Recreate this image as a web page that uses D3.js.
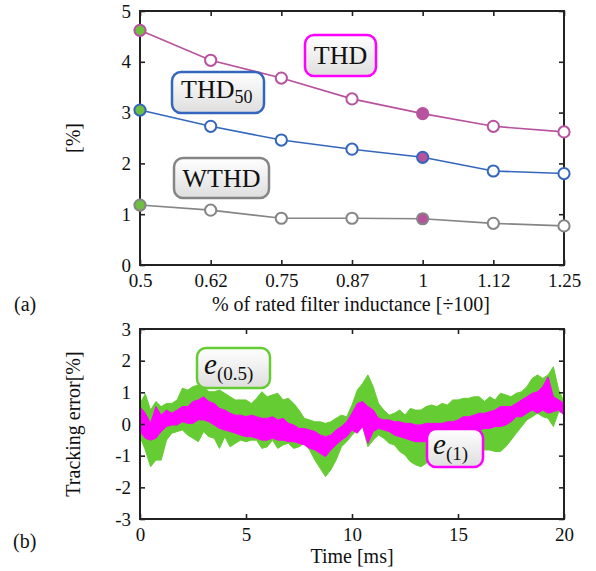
<!DOCTYPE html>
<html>
<head>
<meta charset="utf-8">
<script src="https://cdn.jsdelivr.net/npm/d3@7"></script>
<style>
  body { margin: 0; background: #fff; }
  svg { display: block; }
  text { font-family: "Liberation Serif", "Times New Roman", serif; fill: #111; }
</style>
</head>
<body>
<svg id="chart" width="596" height="571"></svg>
<script>
// ---- (a) distortion vs. filter inductance ----
const inductance = ["0.5", "0.62", "0.75", "0.87", "1", "1.12", "1.25"];
const thd   = [4.62, 4.03, 3.68, 3.27, 2.98, 2.73, 2.62];
const thd50 = [3.05, 2.73, 2.46, 2.28, 2.12, 1.85, 1.80];
const wthd  = [1.18, 1.08, 0.92, 0.92, 0.91, 0.82, 0.77];
const yTicksA = [0, 1, 2, 3, 4, 5];

// ---- (b) tracking error over one cycle (band envelopes, %) ----
const timeMs = [0, 0.25, 0.5, 0.75, 1, 1.25, 1.5, 1.75, 2, 2.25, 2.5, 2.75, 3, 3.25, 3.5, 3.75,
  4, 4.25, 4.5, 4.75, 5, 5.25, 5.5, 5.75, 6, 6.25, 6.5, 6.75, 7, 7.25, 7.5, 7.75,
  8, 8.25, 8.5, 8.75, 9, 9.25, 9.5, 9.75, 10, 10.25, 10.5, 10.75, 11, 11.25, 11.5, 11.75,
  12, 12.25, 12.5, 12.75, 13, 13.25, 13.5, 13.75, 14, 14.25, 14.5, 14.75, 15, 15.25, 15.5, 15.75,
  16, 16.25, 16.5, 16.75, 17, 17.25, 17.5, 17.75, 18, 18.25, 18.5, 18.75, 19, 19.25, 19.5, 19.75, 20];
const e05Hi = [0.65, 0.95, 0.44, 0.71, 0.55, 0.65, 0.65, 0.76, 1.13, 1.07, 1.18, 1.23, 1.18, 1.02, 1.02, 1.07,
  0.97, 0.86, 0.76, 0.76, 0.76, 0.65, 0.81, 1.02, 0.86, 0.92, 0.97, 0.76, 0.81, 0.65, 0.44, 0.18,
  0.13, 0.07, 0.07, 0.02, 0.07, 0.18, 0.28, 0.23, 0.60, 1.07, 1.28, 1.55, 1.18, 0.65, 0.44, 0.28,
  0.34, 0.44, 0.28, 0.49, 0.44, 0.44, 0.55, 0.60, 0.55, 0.65, 0.60, 0.76, 0.76, 0.81, 0.81, 0.86,
  0.86, 0.71, 0.86, 0.76, 0.97, 0.92, 0.86, 0.97, 1.02, 1.18, 1.44, 1.55, 1.44, 1.55, 1.81, 1.07, 0.71];
const e05Lo = [-0.40, -0.82, -1.35, -1.14, -1.14, -0.51, -0.29, -0.24, -0.19, -0.35, -0.45, -0.56, -0.24, -0.40, -0.45, -0.77,
  -0.40, -0.72, -0.61, -0.51, -0.56, -0.51, -0.51, -0.77, -0.72, -0.51, -0.77, -0.66, -0.61, -0.77, -0.72, -0.61,
  -0.82, -1.14, -1.40, -1.66, -1.45, -1.14, -0.72, -0.56, -0.35, -0.19, -0.08, -0.72, -0.51, -0.35, -0.45, -0.61,
  -0.66, -0.87, -0.98, -1.19, -1.29, -1.35, -1.24, -1.14, -1.08, -1.03, -0.98, -0.93, -0.87, -0.72, -0.77, -0.72,
  -0.87, -0.82, -0.82, -0.87, -0.87, -0.72, -0.51, -0.29, -0.08, 0.13, 0.23, 0.34, 0.23, 0.18, -0.08, 0.39, 0.34];
const e1Hi = [0.55, 0.34, 0.02, 0.55, 0.28, 0.44, 0.34, 0.44, 0.55, 0.55, 0.71, 0.76, 0.86, 0.71, 0.65, 0.49,
  0.44, 0.34, 0.28, 0.28, 0.23, 0.28, 0.23, 0.18, 0.18, 0.23, 0.13, 0.18, 0.02, -0.03, -0.14, -0.14,
  -0.19, -0.24, -0.35, -0.40, -0.35, -0.19, -0.08, 0.07, 0.34, 0.65, 0.71, 0.55, 0.44, 0.18, 0.13, 0.13,
  0.07, 0.07, 0.02, 0.02, -0.03, -0.03, 0.02, 0.02, 0.02, 0.02, 0.07, 0.07, 0.13, 0.23, 0.23, 0.28,
  0.34, 0.34, 0.39, 0.44, 0.55, 0.55, 0.55, 0.65, 0.76, 0.86, 0.97, 1.02, 1.18, 1.49, 0.86, 0.76, 0.65];
const e1Lo = [-0.24, -0.45, -0.51, -0.45, -0.24, -0.08, -0.03, -0.03, 0.07, 0.02, 0.02, 0.13, 0.13, 0.07, -0.03, -0.14,
  -0.19, -0.24, -0.29, -0.35, -0.40, -0.40, -0.45, -0.51, -0.51, -0.45, -0.51, -0.51, -0.56, -0.56, -0.61, -0.66,
  -0.77, -0.82, -0.93, -1.03, -0.82, -0.66, -0.51, -0.40, -0.19, -0.29, -0.08, -0.61, -0.24, -0.14, -0.19, -0.24,
  -0.35, -0.40, -0.45, -0.51, -0.56, -0.56, -0.56, -0.56, -0.51, -0.51, -0.51, -0.45, -0.40, -0.29, -0.29, -0.24,
  -0.19, -0.14, -0.14, -0.08, -0.08, -0.03, 0.07, 0.23, 0.23, 0.34, 0.44, 0.34, 0.44, 0.34, 0.39, 0.44, 0.28];
const xTicksB = [0, 5, 10, 15, 20];
const yTicksB = [-3, -2, -1, 0, 1, 2, 3];

const svg = d3.select("#chart");
const frameColor = "#222";
const plainNumber = d => String(d);

// vertical gradient for the annotation boxes
const defs = svg.append("defs");
const grad = defs.append("linearGradient").attr("id", "boxFill")
  .attr("x1", 0).attr("y1", 0).attr("x2", 0).attr("y2", 1);
grad.append("stop").attr("offset", "0%").attr("stop-color", "#ffffff");
grad.append("stop").attr("offset", "100%").attr("stop-color", "#dedede");

function frame(g, x0, y0, x1, y1) {
  g.append("rect").attr("x", x0).attr("y", y0).attr("width", x1 - x0).attr("height", y1 - y0)
    .attr("fill", "none").attr("stroke", frameColor).attr("stroke-width", 2);
}

function styleAxis(g) {
  g.select(".domain").remove();
  g.selectAll(".tick line").attr("stroke", frameColor).attr("stroke-width", 1.6);
  g.selectAll(".tick text").style("font-family", '"Liberation Serif", serif').style("font-size", "19px").attr("fill", "#111");
}

function labelBox(x, y, w, h, color) {
  svg.append("rect").attr("x", x).attr("y", y).attr("width", w).attr("height", h)
    .attr("rx", 9).attr("ry", 9).attr("fill", "url(#boxFill)")
    .attr("stroke", color).attr("stroke-width", 2.5);
}

// ================= (a) =================
const A = { x0: 140, x1: 564, y0: 11, y1: 265 };
const xA = d3.scalePoint().domain(inductance).range([A.x0, A.x1]);
const yA = d3.scaleLinear().domain([0, 5]).range([A.y1, A.y0]);

svg.append("g").attr("transform", `translate(0,${A.y1})`)
  .call(d3.axisBottom(xA).tickSizeInner(-5).tickSizeOuter(0).tickPadding(9))
  .call(styleAxis);
svg.append("g").attr("transform", `translate(0,${A.y0})`)
  .call(d3.axisTop(xA).tickSizeInner(-5).tickSizeOuter(0).tickFormat(""))
  .call(styleAxis);
svg.append("g").attr("transform", `translate(${A.x0},0)`)
  .call(d3.axisLeft(yA).tickValues(yTicksA).tickFormat(plainNumber)
    .tickSizeInner(-5).tickSizeOuter(0).tickPadding(9))
  .call(styleAxis);
svg.append("g").attr("transform", `translate(${A.x1},0)`)
  .call(d3.axisRight(yA).tickValues(yTicksA).tickSizeInner(-5).tickSizeOuter(0).tickFormat(""))
  .call(styleAxis);
frame(svg, A.x0, A.y0, A.x1, A.y1);

const seriesA = [
  { name: "WTHD", values: wthd, color: "#858585" },
  { name: "THD50", values: thd50, color: "#3566bd" },
  { name: "THD", values: thd, color: "#b8529f" }
];
const lineA = d3.line().x((d, i) => xA(inductance[i])).y(d => yA(d));
const markerHighlight = "#b8529f";
const markerStart = "#6cbf3f";

seriesA.forEach(s => {
  svg.append("path").datum(s.values).attr("d", lineA)
    .attr("fill", "none").attr("stroke", s.color).attr("stroke-width", 1.6);
  svg.append("g").selectAll("circle").data(s.values).join("circle")
    .attr("cx", (d, i) => xA(inductance[i]))
    .attr("cy", d => yA(d))
    .attr("r", 5.6)
    .attr("fill", (d, i) => i === 0 ? markerStart : (inductance[i] === "1" ? markerHighlight : "#fff"))
    .attr("stroke", s.color).attr("stroke-width", 2);
});

// axis titles (a)
svg.append("text").attr("x", 351).attr("y", 311).attr("text-anchor", "middle")
  .style("font-size", "20px").text("% of rated filter inductance [÷100]");
svg.append("text").attr("transform", `translate(80,138) rotate(-90)`).attr("text-anchor", "middle")
  .style("font-size", "20px").text("[%]");
svg.append("text").attr("x", 14).attr("y", 311).style("font-size", "20px").text("(a)");

// annotations (a)
labelBox(305, 35, 71, 41, "#ff00ff");
svg.append("text").attr("x", 340.5).attr("y", 64).attr("text-anchor", "middle")
  .style("font-size", "26px").text("THD");

labelBox(172, 72, 92, 41, "#3566bd");
const t50 = svg.append("text").attr("x", 181).attr("y", 98).style("font-size", "26px");
t50.append("tspan").text("THD");
t50.append("tspan").attr("dy", 5).style("font-size", "18px").text("50");

labelBox(174, 158, 95, 40, "#858585");
svg.append("text").attr("x", 221.5).attr("y", 187).attr("text-anchor", "middle")
  .style("font-size", "26px").text("WTHD");

// ================= (b) =================
const B = { x0: 140, x1: 564, y0: 329, y1: 519 };
const xB = d3.scaleLinear().domain([0, 20]).range([B.x0, B.x1]);
const yB = d3.scaleLinear().domain([-3, 3]).range([B.y1, B.y0]);

defs.append("clipPath").attr("id", "clipB").append("rect")
  .attr("x", B.x0).attr("y", B.y0).attr("width", B.x1 - B.x0).attr("height", B.y1 - B.y0);

// band between the sampled upper and lower envelope of each error signal
const bandB = (hi, lo) => d3.area()
  .x((d, i) => xB(timeMs[i]))
  .y0((d, i) => yB(lo[i]))
  .y1((d, i) => yB(hi[i]));

const plotB = svg.append("g").attr("clip-path", "url(#clipB)");
plotB.append("path").datum(timeMs).attr("d", bandB(e05Hi, e05Lo))
  .attr("fill", "#66cc33").attr("stroke", "#66cc33").attr("stroke-width", 1)
  .attr("stroke-linejoin", "miter");
plotB.append("path").datum(timeMs).attr("d", bandB(e1Hi, e1Lo))
  .attr("fill", "#ff00ff").attr("stroke", "#ff00ff").attr("stroke-width", 1)
  .attr("stroke-linejoin", "miter");

svg.append("g").attr("transform", `translate(0,${B.y1})`)
  .call(d3.axisBottom(xB).tickValues(xTicksB).tickFormat(plainNumber)
    .tickSizeInner(-5).tickSizeOuter(0).tickPadding(9))
  .call(styleAxis);
svg.append("g").attr("transform", `translate(0,${B.y0})`)
  .call(d3.axisTop(xB).tickValues(xTicksB).tickSizeInner(-5).tickSizeOuter(0).tickFormat(""))
  .call(styleAxis);
svg.append("g").attr("transform", `translate(${B.x0},0)`)
  .call(d3.axisLeft(yB).tickValues(yTicksB).tickFormat(plainNumber)
    .tickSizeInner(-5).tickSizeOuter(0).tickPadding(9))
  .call(styleAxis);
svg.append("g").attr("transform", `translate(${B.x1},0)`)
  .call(d3.axisRight(yB).tickValues(yTicksB).tickSizeInner(-5).tickSizeOuter(0).tickFormat(""))
  .call(styleAxis);
frame(svg, B.x0, B.y0, B.x1, B.y1);

svg.append("text").attr("x", 352).attr("y", 563).attr("text-anchor", "middle")
  .style("font-size", "20px").text("Time [ms]");
svg.append("text").attr("transform", `translate(80,424) rotate(-90)`).attr("text-anchor", "middle")
  .style("font-size", "20px").text("Tracking error[%]");
svg.append("text").attr("x", 13).attr("y", 548).style("font-size", "20px").text("(b)");

// annotations (b)
labelBox(197, 348, 73, 40, "#66cc33");
const e05 = svg.append("text").attr("x", 204).attr("y", 374).style("font-size", "29px");
e05.append("tspan").style("font-style", "italic").text("e");
e05.append("tspan").attr("dy", 6).style("font-size", "19px").text("(0.5)");

labelBox(427, 429, 56, 38, "#ff00ff");
const e1 = svg.append("text").attr("x", 433).attr("y", 454).style("font-size", "29px");
e1.append("tspan").style("font-style", "italic").text("e");
e1.append("tspan").attr("dy", 6).style("font-size", "19px").text("(1)");
</script>
</body>
</html>
